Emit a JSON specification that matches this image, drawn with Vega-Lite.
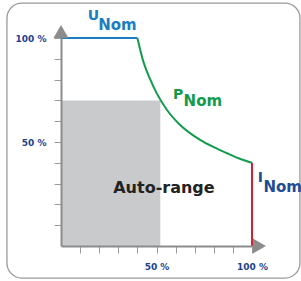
{
  "$schema": "https://vega.github.io/schema/vega-lite/v6.json",
  "width": 191,
  "height": 208,
  "autosize": "none",
  "padding": {"left": 61, "top": 38, "right": 49, "bottom": 35},
  "background": "white",
  "config": {"view": {"stroke": null}, "font": "DejaVu Sans"},
  "resolve": {"scale": {"color": "independent"}},
  "datasets": {
    "lines": [
      {"part": "U", "order": 1, "x": 0, "y": 100},
      {"part": "U", "order": 2, "x": 40, "y": 100},
      {"part": "P", "order": 1, "x": 40, "y": 100},
      {"part": "P", "order": 2, "x": 43, "y": 89},
      {"part": "P", "order": 3, "x": 46.6, "y": 80.3},
      {"part": "P", "order": 4, "x": 50, "y": 73.6},
      {"part": "P", "order": 5, "x": 55.5, "y": 65.4},
      {"part": "P", "order": 6, "x": 62, "y": 58.5},
      {"part": "P", "order": 7, "x": 72.8, "y": 51},
      {"part": "P", "order": 8, "x": 80, "y": 47.5},
      {"part": "P", "order": 9, "x": 86.9, "y": 44.6},
      {"part": "P", "order": 10, "x": 93, "y": 42.2},
      {"part": "P", "order": 11, "x": 100, "y": 40},
      {"part": "I", "order": 1, "x": 100, "y": 40},
      {"part": "I", "order": 2, "x": 100, "y": 0}
    ],
    "texts": [
      {"kind": "U", "size": "big", "text": "U", "x": 14, "y": 108.7},
      {"kind": "U", "size": "sub", "text": "Nom", "x": 19.5, "y": 103.8},
      {"kind": "P", "size": "big", "text": "P", "x": 58.6, "y": 70.7},
      {"kind": "P", "size": "sub", "text": "Nom", "x": 64.2, "y": 67.3},
      {"kind": "I", "size": "big", "text": "I", "x": 103, "y": 30.8},
      {"kind": "I", "size": "sub", "text": "Nom", "x": 106, "y": 26}
    ]
  },
  "layer": [
    {
      "data": {"values": [{"x": -28.3, "x2": 125.1, "y": -15.4, "y2": 116.8}]},
      "mark": {"type": "rect", "fill": null, "stroke": "#9a9a9a", "strokeWidth": 1.3, "cornerRadius": 15},
      "encoding": {
        "x": {"field": "x", "type": "quantitative", "scale": {"domain": [0, 100], "nice": false},
          "axis": {"values": [10, 20, 30, 40, 50, 60, 70, 80, 90, 100], "tickCount": 30, "title": null, "grid": false,
            "domainColor": "#8c8c8c", "domainWidth": 2, "tickColor": "#9a9a9a", "tickSize": 7, "tickWidth": 1,
            "labelExpr": "datum.value == 100 ? '100 %' : datum.value == 50 ? '50 %' : ''",
            "labelFont": "DejaVu Sans", "labelFontWeight": "bold", "labelFontSize": 9, "labelColor": "#1e3f8c",
            "labelPadding": 9, "labelFlush": false, "labelOverlap": false, "labelBound": false, "zindex": 1}},
        "x2": {"field": "x2"},
        "y": {"field": "y", "type": "quantitative", "scale": {"domain": [0, 100], "nice": false},
          "axis": {"values": [10, 20, 30, 40, 50, 60, 70, 80, 90, 100], "tickCount": 30, "title": null, "grid": false,
            "domainColor": "#8c8c8c", "domainWidth": 2, "tickColor": "#9a9a9a", "tickSize": 7, "tickWidth": 1,
            "labelExpr": "datum.value == 100 ? '100 %' : datum.value == 50 ? '50 %' : ''",
            "labelFont": "DejaVu Sans", "labelFontWeight": "bold", "labelFontSize": 9, "labelColor": "#1e3f8c",
            "labelPadding": 8, "labelFlush": false, "labelOverlap": false, "labelBound": false, "zindex": 1}},
        "y2": {"field": "y2"}
      }
    },
    {
      "data": {"values": [{"x": 0, "x2": 52, "y": 0, "y2": 70}]},
      "mark": {"type": "rect", "fill": "#c8cacc"},
      "encoding": {
        "x": {"field": "x", "type": "quantitative"},
        "x2": {"field": "x2"},
        "y": {"field": "y", "type": "quantitative"},
        "y2": {"field": "y2"}
      }
    },
    {
      "data": {"name": "lines"},
      "mark": {"type": "line", "strokeWidth": 2, "interpolate": "monotone"},
      "encoding": {
        "x": {"field": "x", "type": "quantitative"},
        "y": {"field": "y", "type": "quantitative"},
        "order": {"field": "order"},
        "color": {"field": "part", "type": "nominal", "legend": null,
          "scale": {"domain": ["U", "P", "I"], "range": ["#1b7dc2", "#119b4b", "#d42030"]}}
      }
    },
    {
      "data": {"values": [{"dir": "up", "x": 0, "y": 103.1}, {"dir": "right", "x": 103.9, "y": 0}]},
      "mark": {"type": "point", "filled": true, "opacity": 1, "size": 225, "color": "#8c8c8c"},
      "encoding": {
        "x": {"field": "x", "type": "quantitative"},
        "y": {"field": "y", "type": "quantitative"},
        "shape": {"field": "dir", "type": "nominal", "legend": null,
          "scale": {"domain": ["up", "right"], "range": ["triangle-up", "triangle-right"]}}
      }
    },
    {
      "data": {"name": "texts"},
      "transform": [{"filter": "datum.size == 'big'"}],
      "mark": {"type": "text", "align": "left", "baseline": "alphabetic", "fontWeight": "bold", "fontSize": 14},
      "encoding": {
        "x": {"field": "x", "type": "quantitative"},
        "y": {"field": "y", "type": "quantitative"},
        "text": {"field": "text"},
        "color": {"field": "kind", "type": "nominal", "legend": null,
          "scale": {"domain": ["U", "P", "I"], "range": ["#1b7dc2", "#119b4b", "#1f4c96"]}}
      }
    },
    {
      "data": {"name": "texts"},
      "transform": [{"filter": "datum.size == 'sub'"}],
      "mark": {"type": "text", "align": "left", "baseline": "alphabetic", "fontWeight": "bold", "fontSize": 15},
      "encoding": {
        "x": {"field": "x", "type": "quantitative"},
        "y": {"field": "y", "type": "quantitative"},
        "text": {"field": "text"},
        "color": {"field": "kind", "type": "nominal", "legend": null,
          "scale": {"domain": ["U", "P", "I"], "range": ["#1b7dc2", "#119b4b", "#1f4c96"]}}
      }
    },
    {
      "data": {"values": [{"text": "Auto-range", "x": 53.9, "y": 25.5}]},
      "mark": {"type": "text", "align": "center", "baseline": "alphabetic", "fontWeight": "bold", "fontSize": 16, "color": "#222222"},
      "encoding": {
        "x": {"field": "x", "type": "quantitative"},
        "y": {"field": "y", "type": "quantitative"},
        "text": {"field": "text"}
      }
    }
  ]
}
